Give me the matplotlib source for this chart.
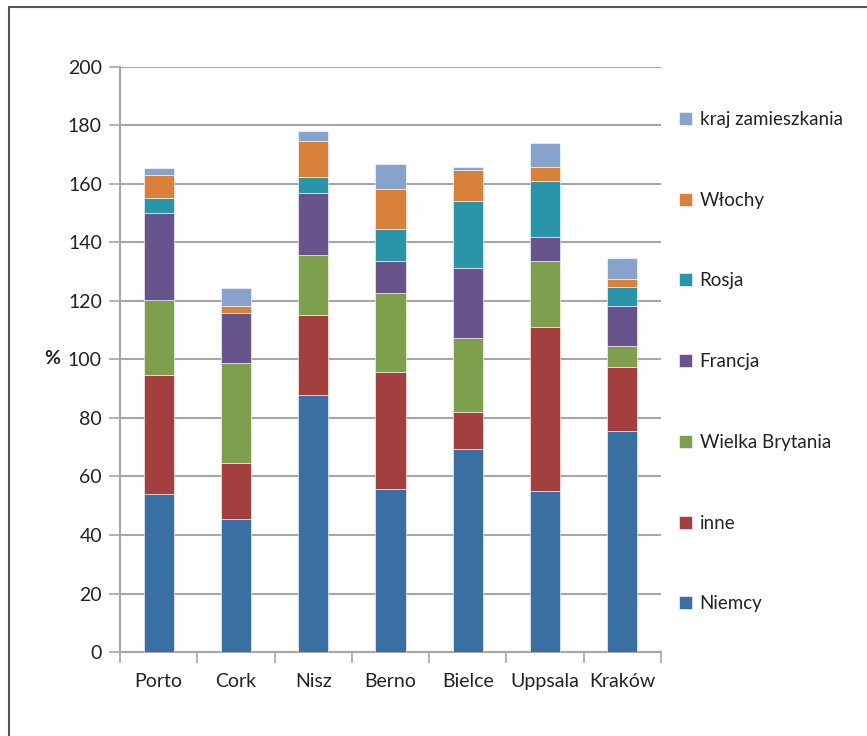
import matplotlib
matplotlib.use("Agg")
import matplotlib.pyplot as plt
from matplotlib.patches import Rectangle
import numpy as np

plt.rcParams['font.family'] = ['Lato', 'DejaVu Sans']

cities = ["Porto", "Cork", "Nisz", "Berno", "Bielce", "Uppsala", "Kraków"]

niemcy = [54.1, 45.4, 87.8, 55.7, 69.4, 54.9, 75.6]
inne = [40.7, 19.3, 27.5, 40.1, 12.5, 56.3, 21.8]
wielka_brytania = [25.5, 34.1, 20.4, 26.8, 25.3, 22.5, 7.2]
francja = [29.6, 17.1, 21.1, 11.0, 24.0, 8.1, 13.8]
rosja = [5.2, 0.0, 5.5, 11.1, 23.1, 19.3, 6.4]
wlochy = [7.8, 2.5, 12.3, 13.4, 10.3, 4.6, 2.8]
kraj = [2.5, 6.0, 3.5, 8.7, 1.1, 8.4, 7.1]

series = [
    ("Niemcy", niemcy, "#3a6fa4"),
    ("inne", inne, "#a33f3f"),
    ("Wielka Brytania", wielka_brytania, "#7ea04d"),
    ("Francja", francja, "#68548c"),
    ("Rosja", rosja, "#2a95a8"),
    ("Włochy", wlochy, "#d9803a"),
    ("kraj zamieszkania", kraj, "#88a3cb"),
]

fig = plt.figure(figsize=(8.67, 7.36), dpi=100)
ax = fig.add_axes([0.1384, 0.1141, 0.624, 0.795])

x = np.arange(len(cities))
bottom = np.zeros(len(cities))
for name, vals, col in series:
    ax.bar(x, vals, width=0.39, bottom=bottom, color=col, label=name,
           edgecolor="white", linewidth=0.4, zorder=3)
    bottom += np.array(vals)

ax.set_ylim(0, 200)
ax.set_xlim(-0.5, len(cities) - 0.5)
ax.set_yticks(range(0, 201, 20))
ax.yaxis.grid(True, color="#a6a6a6", linewidth=1.5, zorder=0)
ax.set_xticks(x)
ax.set_xticklabels(cities, fontsize=14, color="#222222")
ax.set_xticks(np.arange(-0.5, len(cities), 1), minor=True)
ax.tick_params(axis="x", which="major", length=0, pad=15)
ax.tick_params(axis="x", which="minor", length=8, width=1.2, color="#a6a6a6")
ax.tick_params(axis="y", length=8, width=1.2, color="#a6a6a6",
               labelsize=14, labelcolor="#222222", pad=5)

for s in ["top", "right"]:
    ax.spines[s].set_visible(False)
ax.spines["left"].set_color("#a6a6a6")
ax.spines["left"].set_linewidth(1.5)
ax.spines["bottom"].set_color("#a6a6a6")
ax.spines["bottom"].set_linewidth(1.5)

fig.text(44 / 867, 1 - 358 / 736, "%", fontsize=14, fontweight="bold",
         ha="left", va="center", color="#222222")

h, l = ax.get_legend_handles_labels()
fig.legend(h[::-1], l[::-1], loc="upper left", bbox_to_anchor=(662 / 867, 1 - 94 / 736),
           frameon=False, fontsize=13.5, labelspacing=3.4, handlelength=0.7,
           handleheight=0.7, handletextpad=0.4, labelcolor="#222222")

fig.patches.append(Rectangle((9 / 867, -0.2), 1.5, 1 - 7 / 736 + 0.2,
                             transform=fig.transFigure, fill=False,
                             edgecolor="#555555", linewidth=1.5))

fig.savefig("out.png", dpi=100)
